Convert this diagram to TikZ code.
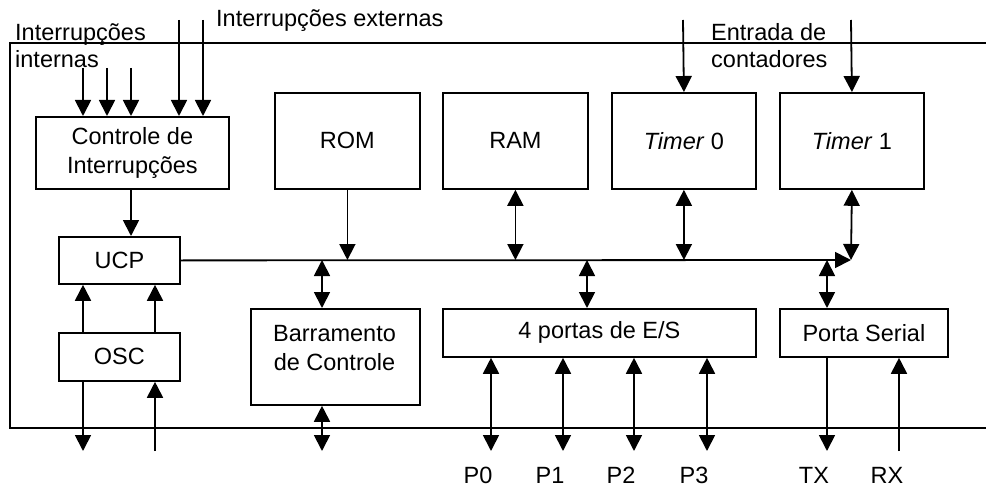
\documentclass[tikz,border=0pt]{standalone}
\usepackage{fontspec}
\setmainfont{Liberation Sans}
\usetikzlibrary{arrows.meta}
\begin{document}
\begin{tikzpicture}[x=1pt,y=-1pt,
  txt/.style={font=\fontsize{23.5}{28.5}\selectfont},
  box/.style={draw, line width=1.8pt, inner sep=0pt, align=center, anchor=north west, txt},
  lbl/.style={inner sep=0pt, txt},
  ln/.style={line width=1.8pt},
  con/.style={ln, -{Triangle[width=16pt,length=16pt]}},
  bi/.style={ln, {Triangle[width=16pt,length=16pt]}-{Triangle[width=16pt,length=16pt]}}]
\useasboundingbox (0,0) rectangle (986,487);
% outer frame
\draw[ln] (986,43) -- (10,43) -- (10,428) -- (986,428);
% boxes
\node[box, minimum width=193, minimum height=72] (ctrl) at (35,116) {Controle de\\Interrupções};
\node[box, minimum width=121, minimum height=47] (ucp) at (58,236) {UCP};
\node[box, minimum width=121, minimum height=48] (osc) at (58,332) {OSC};
\node[box, minimum width=145, minimum height=96] (rom) at (274,92) {ROM};
\node[box, minimum width=145, minimum height=96] (ram) at (442,92) {RAM};
\node[box, minimum width=144, minimum height=96] (t0) at (611,92) {\textit{Timer} 0};
\node[box, minimum width=144, minimum height=96] (t1) at (779,92) {\textit{Timer} 1};
\node[box, minimum width=169, minimum height=96] (bc) at (250,308) {};
\node[lbl, align=center] (bctext) at (334.5,348) {Barramento\\de Controle};
\node[box, minimum width=313, minimum height=48] (io) at (442,308) {4 portas de E/S};
\node[box, minimum width=168, minimum height=48] (ser) at (779,308) {Porta Serial};
% labels
\node[lbl, anchor=base west] (liint1) at (15,41) {Interrupções};
\node[lbl, anchor=base west] (liint2) at (15,67) {internas};
\node[lbl, anchor=base west] (liext) at (216,27) {Interrupções externas};
\node[lbl, anchor=base west] (lent1) at (711,41) {Entrada de};
\node[lbl, anchor=base west] (lent2) at (711,68) {contadores};
% coordinates
\coordinate (ii1) at (83,68);
\coordinate (ii2) at (107,68);
\coordinate (ii3) at (131,68);
\coordinate (ie1) at (179,20);
\coordinate (ie2) at (203,20);
\coordinate (ec0) at (683,20);
\coordinate (ec1) at (851,20);
\coordinate (busR) at (851,260);
\coordinate (oscA) at (83,451);
\coordinate (oscB) at (155,451);
\coordinate (bcx) at (322,451);
\coordinate (iox) at (587,260);
\coordinate (serx) at (827,260);
\coordinate (p0) at (491,451);
\coordinate (p1) at (563,451);
\coordinate (p2) at (634,451);
\coordinate (p3) at (707,451);
\coordinate (tx) at (827,451);
\coordinate (rx) at (899,451);
% interrupt inputs
\draw[con] (ii1) -- (ctrl.north -| ii1);
\draw[con] (ii2) -- (ctrl.north -| ii2);
\draw[con] (ii3) -- (ctrl.north -| ii3);
\draw[con] (ie1) -- (ctrl.north -| ie1);
\draw[con] (ie2) -- (ctrl.north -| ie2);
\draw[con] (ec0) -- (t0.north);
\draw[con] (ec1) -- (t1.north);
% CPU
\draw[con] (ctrl.south -| ii3) -- (ucp.north -| ii3);
\draw[con] (osc.north -| oscA) -- (ucp.south -| oscA);
\draw[con] (osc.north -| oscB) -- (ucp.south -| oscB);
\draw[con] (osc.south -| oscA) -- (oscA);
\draw[con] (oscB) -- (osc.south -| oscB);
% bus
\draw[con] (ucp.east) -- (busR);
\draw[con] (rom.south) -- (rom.south |- busR);
\draw[bi] (ram.south) -- (ram.south |- busR);
\draw[bi] (t0.south) -- (t0.south |- busR);
\draw[bi] (t1.south) -- (busR);
\draw[bi] (bcx |- busR) -- (bc.north -| bcx);
\draw[bi] (bc.south -| bcx) -- (bcx);
\draw[bi] (iox) -- (io.north -| iox);
\draw[bi] (serx) -- (ser.north -| serx);
% ports
\draw[bi] (io.south -| p0) -- (p0);
\draw[bi] (io.south -| p1) -- (p1);
\draw[bi] (io.south -| p2) -- (p2);
\draw[bi] (io.south -| p3) -- (p3);
\draw[con] (ser.south -| tx) -- (tx);
\draw[con] (rx) -- (ser.south -| rx);
% port labels
\node[lbl, anchor=base] (lp0) at (478,483) {P0};
\node[lbl, anchor=base] (lp1) at (550,483) {P1};
\node[lbl, anchor=base] (lp2) at (621,483) {P2};
\node[lbl, anchor=base] (lp3) at (694,483) {P3};
\node[lbl, anchor=base] (ltx) at (814,483) {TX};
\node[lbl, anchor=base] (lrx) at (887,483) {RX};
\end{tikzpicture}
\end{document}
